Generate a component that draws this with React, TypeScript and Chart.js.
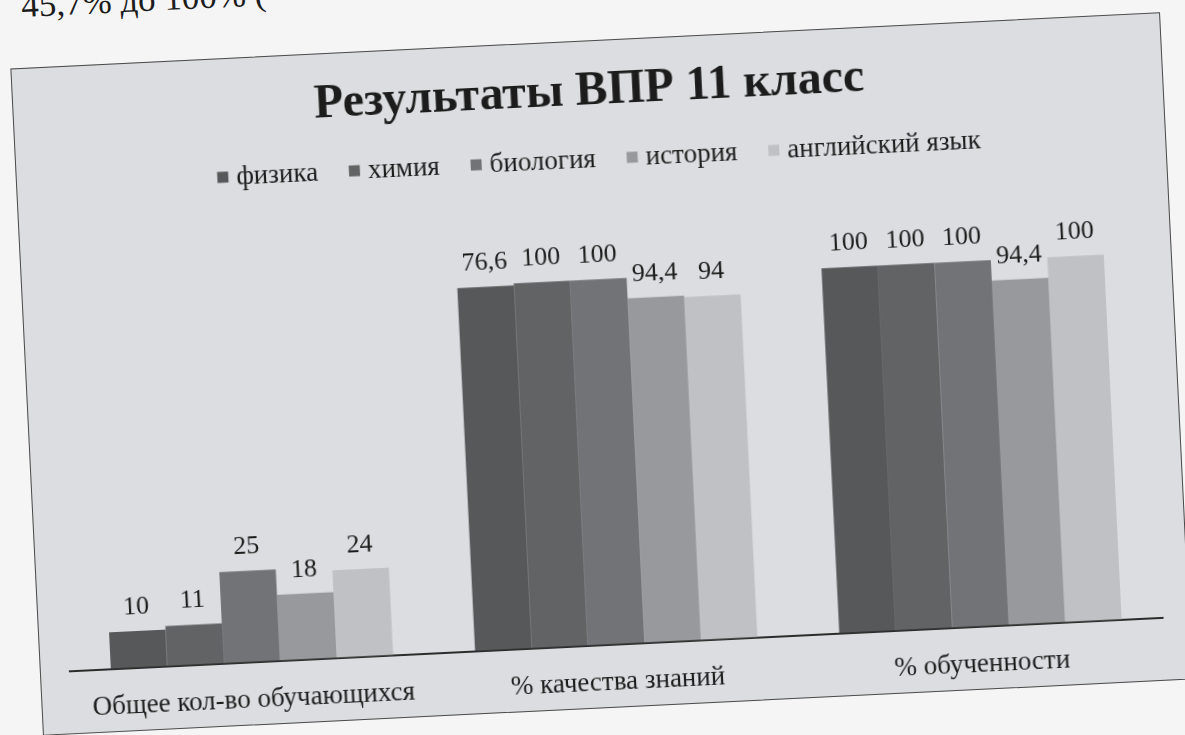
import React, { useEffect, useRef } from "react";
import { Chart, registerables } from "chart.js";

Chart.register(...registerables);

const categories = ["Общее кол-во обучающихся", "% качества знаний", "% обученности"];
const seriesNames = ["физика", "химия", "биология", "история", "английский язык"];
const physicsValues = [10, 99.5, 100];
const chemistryValues = [11, 100, 100];
const biologyValues = [25, 100, 100];
const historyValues = [18, 94.4, 94.4];
const englishValues = [24, 94, 100];
const physicsLabels = ["10", "76,6", "100"];
const seriesColors = ["#57585a", "#626365", "#727376", "#97999c", "#bfc1c4"];
const chartTitle = "Результаты ВПР 11 класс";
const pageText = "45,7% до 100% (";

const SERIF = "'Liberation Serif', 'Times New Roman', serif";
const TEXT_COLOR = "#1c1c1c";

const fmt = (v: number) => String(v).replace(".", ",");

const extrasPlugin = {
  id: "extras",
  afterDatasetsDraw(chart: any) {
    const ctx = chart.ctx;
    ctx.save();
    // data labels
    ctx.font = `26px ${SERIF}`;
    ctx.fillStyle = TEXT_COLOR;
    ctx.textAlign = "center";
    ctx.textBaseline = "alphabetic";
    chart.data.datasets.forEach((ds: any, di: number) => {
      const meta = chart.getDatasetMeta(di);
      meta.data.forEach((el: any, i: number) => {
        const label = ds.valueLabels ? ds.valueLabels[i] : fmt(ds.data[i]);
        ctx.fillText(label, el.x, el.y - 17);
      });
    });
    // legend
    const box = 11;
    const gapBoxText = 8;
    const itemGap = 31;
    ctx.font = `27px ${SERIF}`;
    const widths = chart.data.datasets.map(
      (ds: any) => box + gapBoxText + ctx.measureText(ds.label).width
    );
    const total = widths.reduce((a: number, b: number) => a + b, 0) + itemGap * (widths.length - 1);
    let x = (chart.width - total) / 2 + 8;
    const baseY = 126;
    ctx.textAlign = "left";
    chart.data.datasets.forEach((ds: any, di: number) => {
      ctx.fillStyle = ds.backgroundColor;
      ctx.fillRect(x, baseY - 8 - box / 2, box, box);
      ctx.fillStyle = TEXT_COLOR;
      ctx.fillText(ds.label, x + box + gapBoxText, baseY);
      x += widths[di] + itemGap;
    });
    ctx.restore();
  },
};

export default function App() {
  const canvasRef = useRef<HTMLCanvasElement | null>(null);

  useEffect(() => {
    if (!canvasRef.current) return;
    const valueSets = [physicsValues, chemistryValues, biologyValues, historyValues, englishValues];
    const chart = new Chart(canvasRef.current, {
      type: "bar",
      data: {
        labels: categories,
        datasets: seriesNames.map((name, i) => ({
          label: name,
          data: valueSets[i],
          backgroundColor: seriesColors[i],
          borderWidth: 0,
          barPercentage: 1,
          categoryPercentage: 0.775,
          valueLabels: i === 0 ? physicsLabels : undefined,
        })) as any,
      },
      options: {
        animation: false,
        responsive: false,
        maintainAspectRatio: false,
        layout: { padding: { left: 29, right: 26, top: 0, bottom: -14 } },
        plugins: {
          title: {
            display: true,
            text: chartTitle,
            color: TEXT_COLOR,
            font: { family: SERIF, size: 48, weight: "bold" },
            padding: { top: 22, bottom: 120 },
          },
          legend: { display: false },
          tooltip: { enabled: false },
        },
        scales: {
          x: {
            grid: { display: false, drawTicks: false },
            border: { display: true, color: "#2b2b2b", width: 2 },
            ticks: {
              color: TEXT_COLOR,
              font: { family: SERIF, size: 27 },
              padding: 22,
              maxRotation: 0,
              autoSkip: false,
            },
          },
          y: { display: false, min: 0, max: 110.6 },
        },
      } as any,
      plugins: [extrasPlugin],
    });
    return () => chart.destroy();
  }, []);

  return (
    <div
      style={{
        position: "fixed",
        left: 0,
        top: 0,
        width: 1185,
        height: 735,
        background: "#f5f5f5",
        overflow: "hidden",
      }}
    >
      <div
        style={{
          position: "absolute",
          left: 22,
          top: -12,
          fontFamily: SERIF,
          fontSize: 35,
          lineHeight: 1,
          color: TEXT_COLOR,
          whiteSpace: "nowrap",
          transform: "rotate(-2.8deg)",
          transformOrigin: "0 100%",
        }}
      >
        {pageText}
      </div>
      <div
        style={{
          position: "absolute",
          left: 26,
          top: 40,
          width: 1151,
          height: 668,
          boxSizing: "border-box",
          border: "1px solid #4a4a4a",
          background: "#dbdde0",
          transform: "rotate(-2.8deg)",
          transformOrigin: "50% 50%",
        }}
      >
        <canvas ref={canvasRef} width={1149} height={666} style={{ display: "block" }} />
      </div>
    </div>
  );
}
